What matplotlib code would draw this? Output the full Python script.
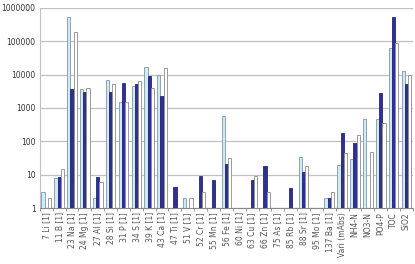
import matplotlib.pyplot as plt
import numpy as np

nan = np.nan

# categories
labels = ["7 Li [1]", "11 B [1]", "23 Na [1]", "24 Mg [1]", "27 Al [1]", "28 Si [1]",
          "31 P [1]", "34 S [1]", "39 K [1]", "43 Ca [1]", "47 Ti [1]", "51 V [1]",
          "52 Cr [1]", "55 Mn [1]", "56 Fe [1]", "60 Ni [1]", "63 Cu [1]", "66 Zn [1]",
          "75 As [1]", "85 Rb [1]", "88 Sr [1]", "95 Mo [1]", "137 Ba [1]",
          "Vari (mAbs)", "NH4-N", "NO3-N", "PO4-P", "TOC", "SiO2"]

# three series (light, dark, white)
light = [3, 7.8, 530000, 3650, 2, 6900, 1490, 4600, 17500, 9600, nan, 2,
         nan, nan, 590, nan, nan, nan, nan, nan, 33, nan, 2,
         20, 30, 460, 460, 63000, 13200]
dark = [nan, 8.7, 3700, 3000, 8.7, 3100, 5500, 5300, 9200, 2350, 4.2, nan,
        8.9, 7.1, 21, nan, 6.9, 17.8, nan, 4, 12.3, nan, 2,
        180, 88, nan, 2780, 530000, 5300]
white = [2, 14.8, 188000, 3900, 5.9, 5200, 1490, 6300, 3900, 15600, nan, 2,
         3, nan, 31, nan, 8.9, 3, nan, nan, 17.8, nan, 3,
         44, 155, 49, 365, 88000, 9600]

fig = plt.figure(figsize=(4.15, 2.64), dpi=100)
ax = fig.add_axes([0.096, 0.212, 0.899, 0.758])
ax.set_yscale("log")

x = np.arange(len(labels))
w = 0.25
ax.bar(x - w, light, w, color="#cfe9f5", edgecolor="#7f98a6", linewidth=0.6, zorder=3)
ax.bar(x, dark, w, color="#2e3192", edgecolor="#24267a", linewidth=0.6, zorder=3)
ax.bar(x + w, white, w, color="white", edgecolor="#8c8c8c", linewidth=0.6, zorder=3)

ax.set_ylim(1, 1000000)
ax.set_xlim(-0.5, len(labels) - 0.5)
yt = [1, 10, 100, 1000, 10000, 100000, 1000000]
ax.set_yticks(yt)
ax.set_yticklabels([str(v) for v in yt])
ax.minorticks_off()
ax.yaxis.grid(True, color="#c0c0c0", lw=0.9, zorder=0)

ax.set_xticks(x)
ax.set_xticklabels(labels, rotation=90)
ax.set_xticks(np.arange(len(labels) + 1) - 0.5, minor=True)
ax.tick_params(axis="x", which="major", length=0, pad=3, labelsize=5.5, colors="#555555")
ax.tick_params(axis="x", which="minor", length=2.5, color="#888888")
ax.tick_params(axis="y", length=0, pad=3, labelsize=5.5, colors="#333333")

for s in ["top", "right"]:
    ax.spines[s].set_visible(False)
ax.spines["left"].set_color("#c0c0c0")
ax.spines["bottom"].set_color("#888888")
ax.spines["left"].set_linewidth(0.8)
ax.spines["bottom"].set_linewidth(0.8)

fig.savefig("out.png", dpi=100)
